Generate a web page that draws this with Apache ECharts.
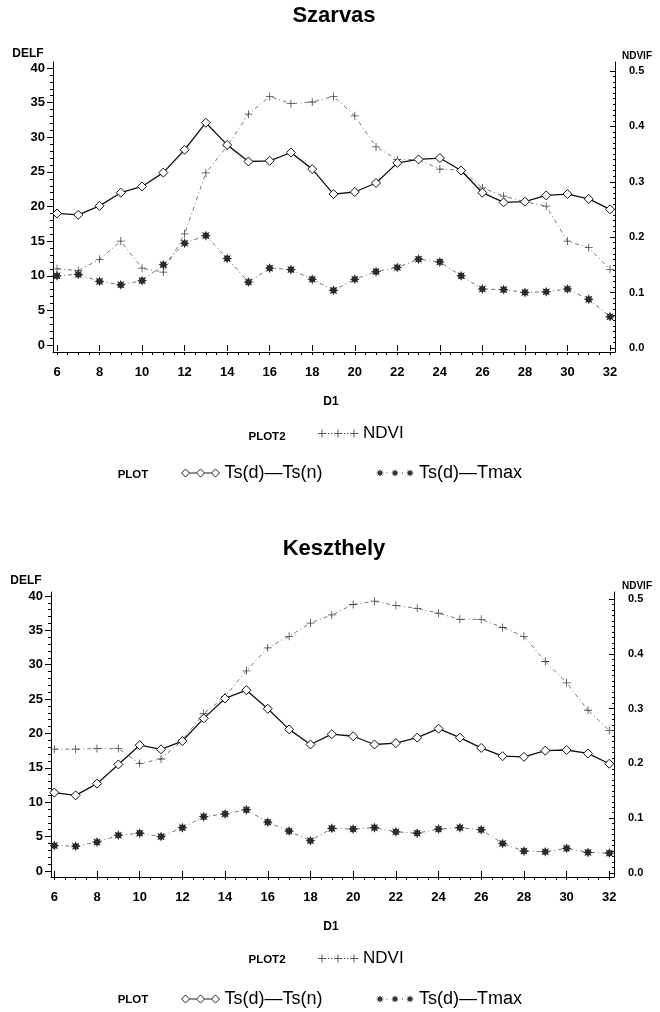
<!DOCTYPE html>
<html><head><meta charset="utf-8">
<script src="https://cdn.jsdelivr.net/npm/echarts@6/dist/echarts.min.js"></script>
<style>html,body{margin:0;padding:0;background:#fff}#c{width:660px;height:1012px}</style>
</head><body><div id="c"></div>
<script>
// ---------- data ----------
const days = [6,7,8,9,10,11,12,13,14,15,16,17,18,19,20,21,22,23,24,25,26,27,28,29,30,31,32];
const xTickLabels = [6,8,10,12,14,16,18,20,22,24,26,28,30,32];
const leftTickLabels = [0,5,10,15,20,25,30,35,40];
const rightTickLabels = [0,0.1,0.2,0.3,0.4,0.5];

const szarvasTsN  = [19.0,18.8,20.1,22.0,22.9,24.9,28.2,32.1,28.9,26.5,26.6,27.8,25.4,21.8,22.1,23.4,26.3,26.8,27.0,25.2,22.0,20.6,20.7,21.6,21.8,21.1,19.6];
const szarvasTmax = [10.0,10.2,9.2,8.7,9.3,11.6,14.7,15.8,12.5,9.1,11.1,10.9,9.5,7.9,9.5,10.6,11.2,12.4,12.0,10.0,8.1,8.0,7.6,7.7,8.1,6.6,4.1];
const szarvasNdvi = [0.143,0.140,0.160,0.193,0.144,0.137,0.206,0.316,0.364,0.422,0.454,0.441,0.444,0.454,0.419,0.363,0.340,0.340,0.323,0.321,0.289,0.274,0.264,0.256,0.193,0.181,0.142];

const keszTsN  = [11.4,11.0,12.7,15.5,18.3,17.7,18.9,22.2,25.1,26.3,23.6,20.6,18.4,19.9,19.6,18.4,18.6,19.4,20.7,19.4,17.9,16.7,16.6,17.5,17.6,17.1,15.6];
const keszTmax = [3.7,3.6,4.2,5.2,5.5,5.0,6.3,7.9,8.3,8.9,7.1,5.8,4.4,6.2,6.1,6.3,5.7,5.5,6.1,6.3,6.0,4.0,2.9,2.8,3.3,2.7,2.6];
const keszNdvi = [0.226,0.226,0.227,0.227,0.200,0.208,0.243,0.291,0.322,0.369,0.411,0.432,0.456,0.471,0.490,0.496,0.488,0.483,0.474,0.463,0.463,0.448,0.432,0.386,0.347,0.297,0.260];

const titles = ['Szarvas', 'Keszthely'];
const NAME_NDVI = 'NDVI', NAME_TSN = 'Ts(d)—Ts(n)', NAME_TMAX = 'Ts(d)—Tmax';

// ---------- layout / style ----------
const FONT = 'Liberation Sans';
const charts = [
  {tsn: szarvasTsN, tmax: szarvasTmax, ndvi: szarvasNdvi,
   L: {left:53, right:45, top:62, height:290, xMin:5.812, xMax:32.235, yMin:-1, yMax:40.866, rMin:-0.0072, rMax:0.5162},
   T: {title:16, yname:54, rname:56, xname:402, leg1:425, leg2:464, lab1:437, lab2:475, ynameX:28}},
  {tsn: keszTsN, tmax: keszTmax, ndvi: keszNdvi,
   L: {left:51, right:46, top:592, height:285, xMin:5.845, xMax:32.22, yMin:-0.873, yMax:40.58, rMin:-0.0073, rMax:0.5128},
   T: {title:549, yname:581, rname:586, xname:927, leg1:950, leg2:990, lab1:960, lab2:1000, ynameX:26}}
];

const minorX = []; for (let i = 12; i <= 64; i++) minorX.push(i / 2);
const minorY = []; for (let i = 0; i <= 40; i++) minorY.push(i);
const minorR = []; for (let i = 0; i <= 50; i++) minorR.push(i / 100);

function starPath(cx, cy, r1, r2, n) {
  let s = '';
  for (let i = 0; i < 2 * n; i++) {
    const a = i * Math.PI / n - Math.PI / 2, r = i % 2 ? r2 : r1;
    s += (i ? 'L' : 'M') + (cx + r * Math.cos(a)).toFixed(2) + ',' + (cy + r * Math.sin(a)).toFixed(2);
  }
  return s + 'Z';
}
function plusPath(cx) {
  return `M${cx-0.5},1h1v3.5h3.5v1h-3.5v3.5h-1v-3.5h-3.5v-1h3.5Z`;
}
const plusSym = 'path://M4.5,0h1v4.5h4.5v1h-4.5v4.5h-1v-4.5h-4.5v-1h4.5Z';
const starSym = 'path://' + starPath(5, 5, 5, 2.8, 8);
const ndviIcon = 'path://' + plusPath(4) + plusPath(20) + plusPath(36) +
  'M10,4.6h1.4v0.8h-1.4ZM13,4.6h1.4v0.8h-1.4ZM26,4.6h1.4v0.8h-1.4ZM29,4.6h1.4v0.8h-1.4Z';
const tsnIcon = 'path://M1,5L5,1L9,5L5,9ZM9,5L16,5M16,5L20,1L24,5L20,9ZM24,5L31,5M31,5L35,1L39,5L35,9Z';
const tmaxIcon = 'path://' + starPath(5, 5, 4, 2, 8) + starPath(20, 5, 4, 2, 8) + starPath(35, 5, 4, 2, 8) +
  'M11.5,4.5h1v1h-1ZM27,4.5h1v1h-1Z';

const grid = [], xAxis = [], yAxis = [], series = [], legend = [], graphic = [];
const lblFont = {fontFamily: FONT, fontWeight: 'bold', color: '#000'};

charts.forEach((c, k) => {
  const L = c.L, T = c.T;
  const g = {left: L.left, right: L.right, top: L.top, height: L.height};
  grid.push(Object.assign({}, g), Object.assign({}, g));
  const line = {show: true, onZero: false, lineStyle: {color: '#000', width: 1}};
  xAxis.push({gridIndex: 2*k, type: 'value', min: L.xMin, max: L.xMax, position: 'bottom',
    axisLine: line, axisTick: {show: true, customValues: minorX, length: 3, lineStyle: {color: '#000'}},
    axisLabel: {show: false}, splitLine: {show: false}});
  xAxis.push({gridIndex: 2*k+1, type: 'value', min: L.xMin, max: L.xMax, position: 'bottom',
    axisLine: {show: false}, axisTick: {show: true, customValues: xTickLabels, length: 6, lineStyle: {color: '#000'}},
    axisLabel: Object.assign({customValues: xTickLabels, margin: 14, fontSize: 13}, lblFont), splitLine: {show: false}});
  yAxis.push({gridIndex: 2*k, type: 'value', position: 'left', min: L.yMin, max: L.yMax,
    axisLine: line, axisTick: {show: true, customValues: minorY, length: 3, lineStyle: {color: '#000'}},
    axisLabel: {show: false}, splitLine: {show: false}});
  yAxis.push({gridIndex: 2*k, type: 'value', position: 'right', min: L.rMin, max: L.rMax,
    axisLine: line, axisTick: {show: true, customValues: minorR, length: 2, inside: true, lineStyle: {color: '#000'}},
    axisLabel: {show: false}, splitLine: {show: false}});
  yAxis.push({gridIndex: 2*k+1, type: 'value', position: 'left', min: L.yMin, max: L.yMax,
    axisLine: {show: false}, axisTick: {show: true, customValues: leftTickLabels, length: 6, lineStyle: {color: '#000'}},
    axisLabel: Object.assign({customValues: leftTickLabels, margin: 8, fontSize: 13}, lblFont), splitLine: {show: false}});
  yAxis.push({gridIndex: 2*k+1, type: 'value', position: 'right', min: L.rMin, max: L.rMax,
    axisLine: {show: false}, axisTick: {show: true, customValues: rightTickLabels, length: 5, inside: true, lineStyle: {color: '#000'}},
    axisLabel: Object.assign({customValues: rightTickLabels, margin: 14, fontSize: 11,
      formatter: v => Number(v).toFixed(1)}, lblFont), splitLine: {show: false}});

  const pair = arr => days.map((d, i) => [d, arr[i]]);
  series.push({type: 'line', name: NAME_NDVI, xAxisIndex: 2*k, yAxisIndex: 4*k+1, data: pair(c.ndvi),
    symbol: plusSym, symbolSize: 8, itemStyle: {color: '#444'},
    lineStyle: {color: '#777', width: 1, type: [4, 3, 1, 3]}, animation: false});
  series.push({type: 'line', name: NAME_TMAX, xAxisIndex: 2*k, yAxisIndex: 4*k, data: pair(c.tmax),
    symbol: starSym, symbolSize: 10, itemStyle: {color: '#2a2a2a'},
    lineStyle: {color: '#777', width: 1, type: [4, 3, 1, 3]}, animation: false});
  series.push({type: 'line', name: NAME_TSN, xAxisIndex: 2*k, yAxisIndex: 4*k, data: pair(c.tsn),
    symbol: 'diamond', symbolSize: 9, itemStyle: {color: '#fff', borderColor: '#111', borderWidth: 1},
    lineStyle: {color: '#111', width: 1.3}, animation: false});

  const legBase = {padding: 0, selectedMode: false, itemHeight: 8};
  legend.push(Object.assign({}, legBase, {left: 318, top: T.leg1, itemWidth: 40,
    textStyle: {fontFamily: FONT, color: '#000', fontSize: 17},
    data: [{name: NAME_NDVI, icon: ndviIcon, itemStyle: {color: '#555', borderWidth: 0}}]}));
  legend.push(Object.assign({}, legBase, {left: 181, top: T.leg2, itemWidth: 38,
    textStyle: {fontFamily: FONT, color: '#000', fontSize: 18},
    data: [{name: NAME_TSN, icon: tsnIcon, itemStyle: {color: '#fff', borderColor: '#222', borderWidth: 1}}]}));
  legend.push(Object.assign({}, legBase, {left: 376, top: T.leg2, itemWidth: 38,
    textStyle: {fontFamily: FONT, color: '#000', fontSize: 18},
    data: [{name: NAME_TMAX, icon: tmaxIcon, itemStyle: {color: '#333', borderWidth: 0}}]}));

  const txt = (s, x, y, size, weight) => ({type: 'text', x: x, y: y,
    style: {text: s, x: 0, y: 0, fill: '#000', font: `${weight} ${size}px "${FONT}"`, textAlign: 'center', textVerticalAlign: 'middle'}});
  graphic.push(txt(titles[k], 334, T.title, 22, 'bold'));
  graphic.push(txt('DELF', T.ynameX, T.yname, 12, 'bold'));
  graphic.push(txt('NDVIF', 637, T.rname, 10, 'bold'));
  graphic.push(txt('D1', 331, T.xname, 12, 'bold'));
  graphic.push(txt('PLOT2', 267, T.lab1, 11.5, 'bold'));
  graphic.push(txt('PLOT', 133, T.lab2, 11.5, 'bold'));
});

const chart = echarts.init(document.getElementById('c'), null, {renderer: 'canvas'});
chart.setOption({animation: false, backgroundColor: '#fff', grid, xAxis, yAxis, series, legend, graphic});
</script></body></html>
